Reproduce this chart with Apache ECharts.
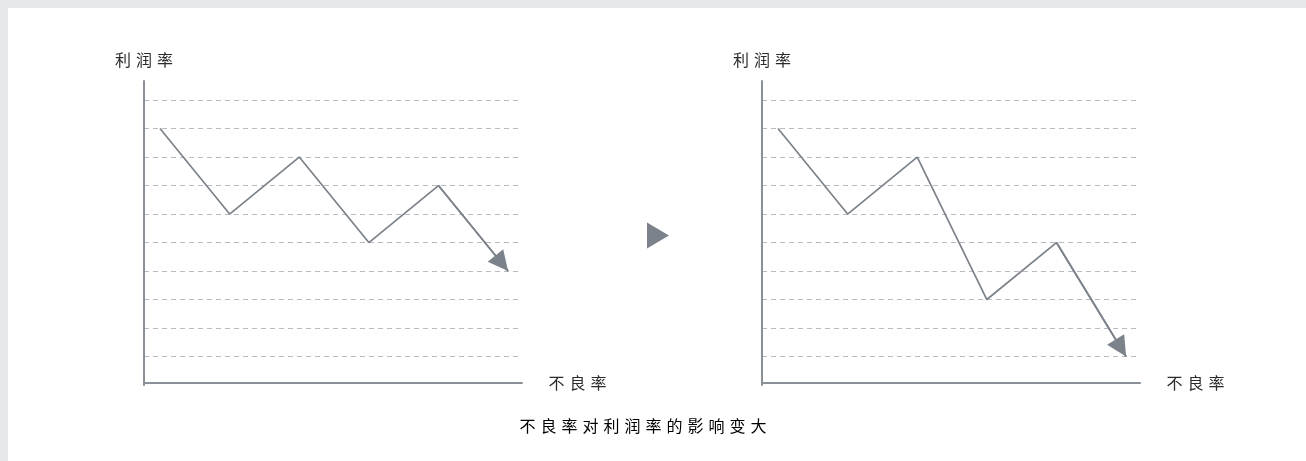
<!DOCTYPE html>
<html>
<head>
<meta charset="utf-8">
<script src="https://cdn.jsdelivr.net/npm/echarts@6/dist/echarts.min.js"></script>
<style>
  html, body { margin: 0; padding: 0; background: #e5e9ec; }
  #chart { position: absolute; left: 8px; top: 8px; width: 1298px; height: 453px; background: #fff; }
</style>
</head>
<body>
<div id="chart"></div>
<script>
// 数据：x 为序号，y 为利润率档位（虚线格）
const steps = [0, 1, 2, 3, 4, 5]
const profitBefore = [9, 6, 8, 5, 7, 4]
const profitAfter = [9, 6, 8, 3, 5, 1]
const yName = '利润率'
const xName = '不良率'
const caption = '不良率对利润率的影响变大'

const lineColor = '#7b828a'
const axisColor = '#8a9097'
const dashColor = '#b8bcc1'
const textColor = '#2b2b2b'
const font = '"Noto Sans CJK SC", "Noto Sans", sans-serif'

// 每个字放进固定宽度的格子里，做出字间距
function spaced(s) {
  return s.split('').map(c => '{c|' + c + '}').join('')
}
const spacedRich = {
  c: { width: 21, align: 'center', fontSize: 16, color: textColor, fontFamily: font }
}

const chart = echarts.init(document.getElementById('chart'))

function makeAxes(idx) {
  return {
    x: {
      type: 'value',
      gridIndex: idx,
      min: -0.23,
      max: 5.2,
      offset: -2,
      name: spaced(xName),
      nameLocation: 'end',
      nameGap: 24,
      nameTextStyle: { rich: spacedRich, verticalAlign: 'middle' },
      axisLine: { onZero: false, lineStyle: { color: axisColor, width: 2 } },
      axisTick: { show: false },
      axisLabel: { show: false },
      splitLine: { show: false }
    },
    y: {
      type: 'value',
      gridIndex: idx,
      min: 0,
      max: 10.67,
      interval: 1,
      name: spaced(yName),
      nameLocation: 'end',
      nameGap: 13,
      nameTextStyle: { rich: spacedRich },
      axisLine: { show: true, onZero: false, lineStyle: { color: axisColor, width: 2 } },
      axisTick: { show: false },
      axisLabel: { show: false },
      splitLine: {
        show: true,
        showMinLine: false,
        showMaxLine: false,
        lineStyle: { color: dashColor, width: 1, type: [5, 4] }
      }
    }
  }
}

function makeSeries(idx, values) {
  const pts = values.map((v, i) => [steps[i], v])
  const n = pts.length
  return {
    type: 'line',
    xAxisIndex: idx,
    yAxisIndex: idx,
    data: pts,
    symbol: 'none',
    silent: true,
    lineStyle: { color: lineColor, width: 1.7 },
    markLine: {
      silent: true,
      symbol: ['none', 'triangle'],
      symbolSize: 20,
      symbolOffset: [0, [0, 10]],
      label: { show: false },
      lineStyle: { color: lineColor, width: 1.7, type: 'solid' },
      itemStyle: { color: lineColor },
      data: [[{ coord: pts[n - 2] }, { coord: pts[n - 1] }]]
    }
  }
}

const a0 = makeAxes(0)
const a1 = makeAxes(1)

chart.setOption({
  animation: false,
  textStyle: { fontFamily: font },
  grid: [
    { left: 136, top: 73, width: 378, height: 304 },
    { left: 754, top: 73, width: 378, height: 304 }
  ],
  xAxis: [a0.x, a1.x],
  yAxis: [a0.y, a1.y],
  series: [makeSeries(0, profitBefore), makeSeries(1, profitAfter)],
  graphic: [
    {
      type: 'polygon',
      shape: { points: [[639, 214.5], [661, 227.5], [639, 240.5]] },
      style: { fill: '#7b8289' }
    },
    {
      type: 'text',
      x: 635,
      y: 418,
      style: {
        text: spaced(caption),
        rich: spacedRich,
        textAlign: 'center',
        textVerticalAlign: 'middle'
      }
    }
  ]
})
</script>
</body>
</html>
